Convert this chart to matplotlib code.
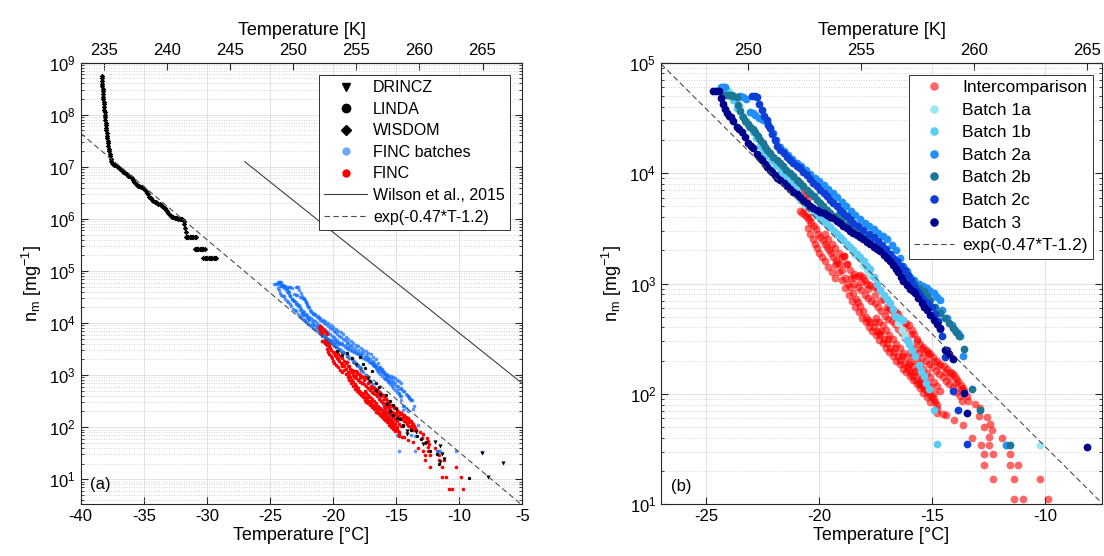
import matplotlib
matplotlib.use("Agg")
import matplotlib.pyplot as plt
import numpy as np
from matplotlib.lines import Line2D

plt.rcParams['font.family'] = ['Liberation Sans', 'DejaVu Sans']
plt.rcParams['mathtext.fontset'] = 'custom'
plt.rcParams['mathtext.rm'] = 'Liberation Sans'
plt.rcParams['mathtext.it'] = 'Liberation Sans:italic'
plt.rcParams['mathtext.bf'] = 'Liberation Sans:bold'
plt.rcParams['axes.unicode_minus'] = False

# ---------------- data: (temperature degC, log10 n_m [mg^-1]) ----------------
# panel (a): other instruments
wisdom = [(-38.33, 8.75), (-38.32, 8.70), (-38.30, 8.65), (-38.29, 8.60), (-38.28, 8.55),
          (-38.26, 8.50), (-38.25, 8.45), (-38.23, 8.40), (-38.22, 8.35), (-38.20, 8.30),
          (-38.18, 8.25), (-38.17, 8.20), (-38.15, 8.15), (-38.13, 8.10), (-38.11, 8.05),
          (-38.09, 8.00), (-38.07, 7.95), (-38.05, 7.90), (-38.03, 7.85), (-38.01, 7.80),
          (-37.99, 7.75), (-37.96, 7.70), (-37.94, 7.65), (-37.92, 7.60), (-37.89, 7.55),
          (-37.86, 7.50), (-37.83, 7.45), (-37.80, 7.40), (-37.77, 7.35), (-37.74, 7.30),
          (-37.70, 7.25), (-37.66, 7.20), (-37.62, 7.15), (-37.57, 7.11), (-37.52, 7.07),
          (-37.45, 7.05), (-37.35, 7.04), (-37.25, 7.03), (-37.15, 7.02), (-37.05, 7.00),
          (-36.95, 6.97), (-36.85, 6.95), (-36.75, 6.93), (-36.65, 6.91), (-36.55, 6.90),
          (-36.45, 6.88), (-36.35, 6.86), (-36.25, 6.83), (-36.15, 6.82), (-36.05, 6.80),
          (-35.95, 6.78), (-35.85, 6.74), (-35.75, 6.71), (-35.65, 6.68), (-35.55, 6.65),
          (-35.45, 6.64), (-35.35, 6.63), (-35.25, 6.62), (-35.15, 6.61), (-35.05, 6.60),
          (-34.95, 6.58), (-34.85, 6.54), (-34.75, 6.50), (-34.65, 6.47), (-34.55, 6.43),
          (-34.45, 6.40), (-34.35, 6.37), (-34.25, 6.34), (-34.15, 6.33), (-34.05, 6.32),
          (-33.95, 6.30), (-33.85, 6.29), (-33.75, 6.28), (-33.65, 6.27), (-33.55, 6.25),
          (-33.45, 6.23), (-33.35, 6.21), (-33.25, 6.18), (-33.15, 6.15), (-33.05, 6.11),
          (-32.95, 6.08), (-32.85, 6.06), (-32.75, 6.04), (-32.65, 6.03), (-32.55, 6.02),
          (-32.45, 6.01), (-32.35, 6.01), (-32.25, 6.00), (-32.15, 6.00), (-32.05, 5.99),
          (-31.95, 5.99), (-31.85, 5.96), (-31.78, 5.90), (-31.72, 5.82), (-31.68, 5.74),
          (-31.66, 5.65), (-31.56, 5.65), (-31.46, 5.65), (-31.36, 5.65), (-31.26, 5.65),
          (-31.16, 5.65), (-31.06, 5.65), (-30.96, 5.65), (-30.86, 5.65),
          (-30.97, 5.42), (-30.87, 5.42), (-30.77, 5.42), (-30.67, 5.42), (-30.57, 5.42),
          (-30.47, 5.42), (-30.37, 5.42), (-30.27, 5.42), (-30.17, 5.42),
          (-30.27, 5.24), (-30.17, 5.24), (-30.07, 5.24), (-29.97, 5.24), (-29.87, 5.24),
          (-29.77, 5.24), (-29.67, 5.24), (-29.57, 5.24), (-29.47, 5.24), (-29.37, 5.24),
          (-29.27, 5.24)]

linda = [(-19.71, 3.455), (-19.30, 3.38), (-18.87, 3.42), (-18.50, 3.33), (-17.87, 3.34),
         (-17.60, 3.21), (-17.48, 3.13), (-17.08, 2.89), (-16.93, 3.07), (-16.60, 2.85),
         (-16.37, 2.77), (-16.28, 2.63), (-15.81, 2.61), (-15.75, 2.44), (-15.50, 2.50),
         (-15.25, 2.42), (-15.23, 2.24), (-14.96, 2.18), (-14.70, 2.16), (-14.44, 2.05),
         (-14.42, 2.03), (-13.80, 1.95), (-13.38, 1.83), (-13.03, 1.77), (-12.61, 1.71),
         (-12.32, 1.54), (-11.78, 1.48), (-11.64, 1.29), (-9.21, 1.017)]

drincz = [(-18.20, 3.20), (-17.20, 2.95), (-16.60, 2.70), (-15.50, 2.30), (-15.05, 2.35),
          (-14.17, 1.92), (-14.14, 1.87), (-13.45, 1.90), (-12.85, 1.67), (-11.92, 1.71),
          (-11.50, 1.64), (-11.36, 1.48), (-11.22, 1.38), (-11.53, 1.34), (-8.16, 1.495),
          (-7.70, 1.05), (-6.50, 1.31)]

# FINC intercomparison (red)
interc_top = [(-21.15, 3.91), (-21.05, 3.94), (-20.95, 3.93), (-20.85, 3.90), (-20.75, 3.87),
              (-20.65, 3.84), (-20.55, 3.81), (-20.45, 3.78), (-21.05, 3.86), (-20.95, 3.82),
              (-20.85, 3.80), (-20.85, 3.66), (-20.75, 3.64), (-20.65, 3.62), (-20.55, 3.60),
              (-20.45, 3.575), (-20.35, 3.55), (-20.25, 3.52), (-20.15, 3.49), (-20.04, 3.45),
              (-19.95, 3.42), (-19.85, 3.39), (-19.76, 3.36), (-19.67, 3.33), (-19.58, 3.30),
              (-19.50, 3.28), (-19.38, 3.24), (-19.28, 3.21), (-19.20, 3.19), (-20.65, 3.68),
              (-20.50, 3.64), (-20.35, 3.60), (-19.75, 3.45), (-19.60, 3.40), (-19.45, 3.36),
              (-19.30, 3.32), (-19.15, 3.28), (-19.00, 3.24), (-18.90, 3.25), (-18.78, 3.18),
              (-20.50, 3.50), (-20.40, 3.45), (-20.30, 3.40), (-20.20, 3.36), (-20.10, 3.32),
              (-20.00, 3.28), (-19.90, 3.24), (-19.75, 3.20), (-19.60, 3.15), (-19.45, 3.10),
              (-19.30, 3.05)]
interc_low = [(-19.10, 3.18), (-18.98, 3.12), (-18.85, 3.05), (-18.74, 3.00), (-18.64, 2.97),
              (-18.51, 2.91), (-18.38, 2.86), (-18.28, 2.83), (-18.19, 2.80), (-18.05, 2.75),
              (-17.92, 2.70), (-17.83, 2.67), (-17.75, 2.65), (-17.60, 2.61), (-17.45, 2.57),
              (-17.38, 2.55), (-17.31, 2.53), (-17.15, 2.495), (-16.99, 2.46), (-16.87, 2.42),
              (-16.70, 2.38), (-16.52, 2.34), (-16.42, 2.31), (-16.27, 2.27), (-16.13, 2.24),
              (-16.05, 2.22), (-15.94, 2.19), (-15.84, 2.16), (-15.72, 2.13), (-15.59, 2.10),
              (-15.50, 2.08), (-15.40, 2.06), (-15.32, 2.04), (-15.24, 2.02), (-15.12, 1.99),
              (-15.03, 1.97), (-14.95, 1.95), (-14.88, 1.925), (-14.81, 1.90), (-14.81, 1.86),
              (-14.78, 1.83), (-14.51, 1.82),
              (-19.30, 3.17), (-19.15, 3.10), (-19.00, 3.03), (-18.85, 2.96), (-18.70, 2.90),
              (-18.55, 2.84), (-18.40, 2.79), (-18.25, 2.74), (-18.10, 2.69), (-17.95, 2.65),
              (-17.80, 2.61), (-17.65, 2.57), (-17.50, 2.53), (-17.35, 2.49), (-17.20, 2.46),
              (-17.05, 2.42), (-16.90, 2.38), (-16.75, 2.34), (-16.60, 2.30), (-16.45, 2.27),
              (-16.30, 2.23), (-16.15, 2.20), (-16.00, 2.16), (-15.85, 2.13), (-15.70, 2.09),
              (-15.55, 2.05), (-15.40, 2.01), (-15.25, 1.97), (-15.12, 1.93),
              (-17.55, 2.655), (-17.25, 2.57), (-16.95, 2.50), (-16.65, 2.42), (-16.35, 2.345),
              (-16.05, 2.275), (-15.75, 2.20), (-15.50, 2.135), (-15.25, 2.075), (-14.95, 2.01),
              (-17.50, 2.69), (-17.35, 2.655), (-17.20, 2.62), (-17.05, 2.575), (-16.90, 2.535),
              (-16.75, 2.495), (-16.60, 2.455), (-16.45, 2.415), (-16.30, 2.37), (-16.15, 2.33),
              (-16.00, 2.29), (-15.85, 2.25), (-15.70, 2.215), (-15.55, 2.18), (-15.40, 2.14),
              (-15.25, 2.10), (-15.10, 2.06),
              (-16.00, 2.38), (-15.85, 2.34), (-15.70, 2.30), (-15.55, 2.27), (-15.40, 2.23),
              (-15.25, 2.19), (-15.10, 2.15), (-14.95, 2.11), (-14.80, 2.07), (-14.65, 2.03)]
interc_high = [(-18.90, 3.25), (-18.77, 3.18), (-18.64, 3.12), (-18.47, 3.09), (-18.30, 3.07),
               (-18.18, 3.08), (-18.07, 3.06), (-17.98, 3.03), (-17.90, 3.00), (-17.75, 2.985),
               (-17.60, 2.97), (-17.45, 2.955), (-17.30, 2.94), (-17.15, 2.86), (-17.01, 2.79),
               (-16.88, 2.775), (-16.75, 2.76), (-16.63, 2.74), (-16.52, 2.72), (-16.41, 2.69),
               (-16.30, 2.66), (-16.18, 2.64), (-16.05, 2.62), (-15.92, 2.58), (-15.80, 2.54),
               (-15.67, 2.50), (-15.54, 2.45), (-15.40, 2.425), (-15.27, 2.40), (-15.18, 2.38),
               (-15.10, 2.36), (-14.96, 2.33), (-14.80, 2.30), (-14.65, 2.27), (-14.50, 2.25),
               (-14.35, 2.225), (-14.21, 2.20), (-14.12, 2.185), (-14.04, 2.17), (-13.95, 2.145),
               (-13.85, 2.12), (-13.73, 2.08), (-13.66, 2.055), (-13.60, 2.03), (-13.49, 1.98),
               (-13.42, 1.94),
               (-18.45, 3.06), (-18.15, 3.01), (-17.85, 2.95), (-17.55, 2.90), (-17.25, 2.85),
               (-16.95, 2.76), (-16.70, 2.71), (-16.45, 2.66), (-16.20, 2.60), (-15.95, 2.54),
               (-15.70, 2.48), (-15.45, 2.41), (-15.20, 2.36), (-14.95, 2.30), (-14.70, 2.25),
               (-14.45, 2.20), (-14.20, 2.15), (-13.95, 2.10), (-13.75, 2.04),
               (-18.60, 3.05), (-18.45, 3.00), (-18.30, 2.97), (-18.15, 2.94), (-18.00, 2.90),
               (-17.85, 2.87), (-17.70, 2.84), (-17.55, 2.82), (-17.40, 2.79), (-17.25, 2.75),
               (-17.10, 2.71), (-16.95, 2.68), (-16.80, 2.66), (-16.65, 2.63), (-16.50, 2.59),
               (-16.35, 2.55), (-16.20, 2.51), (-16.05, 2.47), (-15.90, 2.44), (-15.75, 2.41),
               (-15.60, 2.37), (-15.45, 2.33), (-15.30, 2.30), (-15.15, 2.27), (-15.00, 2.24),
               (-14.85, 2.21), (-14.70, 2.18), (-14.55, 2.15), (-14.40, 2.12), (-14.25, 2.09),
               (-14.10, 2.06), (-13.95, 2.02), (-13.80, 1.98), (-13.70, 1.94)]
interc_tail = [(-14.38, 1.81), (-14.04, 1.76), (-13.65, 1.72), (-13.26, 1.60), (-12.87, 1.54),
               (-12.48, 1.54), (-12.72, 1.457), (-12.33, 1.457), (-12.72, 1.36), (-12.33, 1.23),
               (-11.94, 1.60), (-11.58, 1.457), (-11.58, 1.36), (-11.21, 1.36), (-11.37, 1.23),
               (-10.23, 1.23), (-11.37, 1.046), (-11.01, 1.046), (-9.88, 1.046), (-13.10, 1.91),
               (-12.88, 1.87), (-12.59, 1.79), (-12.44, 1.73), (-12.37, 1.67), (-12.51, 1.61),
               (-12.95, 1.80), (-12.70, 1.70), (-10.80, 0.82), (-10.60, 0.82), (-9.70, 0.82)]
intercomparison = interc_top + interc_low + interc_high + interc_tail

batch_1a = [(-24.17, 4.78), (-24.00, 4.74), (-23.80, 4.71), (-23.65, 4.65), (-23.50, 4.60),
            (-22.50, 4.19), (-22.32, 4.15), (-22.10, 4.10), (-21.88, 4.06), (-21.60, 3.99),
            (-21.30, 3.94), (-21.05, 3.86), (-20.85, 3.76), (-20.62, 3.71), (-20.40, 3.67),
            (-20.18, 3.62), (-19.96, 3.58), (-19.74, 3.545), (-19.52, 3.51), (-19.20, 3.44),
            (-18.40, 3.26), (-18.05, 3.17), (-17.90, 3.12), (-17.75, 3.08), (-16.65, 2.71),
            (-16.50, 2.64), (-16.35, 2.58), (-16.20, 2.52), (-15.98, 2.46), (-10.23, 1.54)]

batch_1b = [(-24.28, 4.77), (-24.12, 4.75), (-23.95, 4.70), (-23.80, 4.66), (-23.62, 4.59),
            (-23.40, 4.52), (-23.25, 4.47), (-23.10, 4.42), (-22.95, 4.37), (-22.80, 4.32),
            (-22.60, 4.25), (-22.45, 4.20), (-22.30, 4.16), (-22.10, 4.12), (-21.90, 4.07),
            (-21.70, 4.02), (-21.50, 3.97), (-21.30, 3.92), (-21.15, 3.88), (-21.00, 3.84),
            (-20.85, 3.79), (-20.70, 3.75), (-20.55, 3.72), (-20.40, 3.69), (-20.25, 3.66),
            (-20.10, 3.62), (-19.96, 3.59), (-19.81, 3.565), (-19.67, 3.54), (-19.52, 3.51),
            (-19.37, 3.48), (-19.23, 3.45), (-19.08, 3.42), (-18.93, 3.39), (-18.78, 3.36),
            (-18.64, 3.33), (-18.49, 3.30), (-18.34, 3.27), (-18.19, 3.24), (-18.04, 3.20),
            (-17.90, 3.16), (-17.75, 3.13), (-17.60, 3.06), (-17.45, 3.00), (-17.31, 2.94),
            (-17.16, 2.90), (-17.01, 2.86), (-16.87, 2.82), (-16.76, 2.77), (-16.65, 2.71),
            (-16.48, 2.69), (-16.30, 2.67), (-16.13, 2.49), (-16.02, 2.45), (-15.90, 2.40),
            (-15.76, 2.34), (-15.61, 2.26), (-15.50, 2.21), (-15.39, 2.16), (-15.28, 2.10),
            (-15.17, 2.04), (-14.95, 1.85), (-14.80, 1.55), (-11.71, 1.54)]

batch_2a = [(-24.35, 4.78), (-24.25, 4.78), (-24.15, 4.78), (-23.50, 4.70), (-23.38, 4.69),
            (-23.25, 4.67), (-23.06, 4.55), (-22.95, 4.54), (-22.85, 4.53), (-22.65, 4.50),
            (-22.50, 4.48), (-22.30, 4.46), (-22.18, 4.41), (-22.05, 4.36), (-21.90, 4.30),
            (-21.75, 4.24), (-21.58, 4.20), (-21.40, 4.165), (-21.20, 4.13), (-21.00, 4.095),
            (-20.80, 4.06), (-20.60, 4.03), (-20.40, 3.995), (-20.20, 3.96), (-20.00, 3.925),
            (-19.80, 3.89), (-19.60, 3.855), (-19.40, 3.82), (-19.20, 3.78), (-19.00, 3.74),
            (-18.80, 3.70), (-18.60, 3.66), (-18.40, 3.62), (-18.20, 3.58), (-18.00, 3.55),
            (-17.80, 3.52), (-17.60, 3.49), (-17.40, 3.46), (-17.20, 3.43), (-17.00, 3.40),
            (-16.80, 3.35), (-16.60, 3.30), (-16.45, 3.23), (-16.30, 3.16), (-16.14, 3.11),
            (-15.98, 3.06), (-15.80, 3.03), (-15.61, 3.00), (-15.42, 2.98), (-15.24, 2.96),
            (-15.10, 2.935), (-14.95, 2.91), (-14.80, 2.88), (-14.65, 2.85), (-14.58, 2.76),
            (-14.36, 2.69), (-14.14, 2.62), (-13.99, 2.58), (-13.88, 2.55), (-13.77, 2.52),
            (-13.65, 2.34), (-11.75, 1.54)]

batch_2b = [(-24.24, 4.71), (-24.12, 4.71), (-24.00, 4.71), (-23.90, 4.705), (-23.80, 4.70),
            (-23.65, 4.69), (-23.58, 4.62), (-23.50, 4.56), (-23.38, 4.51), (-23.28, 4.47),
            (-23.17, 4.445), (-23.06, 4.42), (-22.95, 4.40), (-22.84, 4.375), (-22.73, 4.34),
            (-22.62, 4.30), (-22.51, 4.27), (-22.40, 4.24), (-22.29, 4.21), (-22.18, 4.18),
            (-22.03, 4.15), (-21.88, 4.12), (-21.73, 4.09), (-21.59, 4.06), (-21.45, 4.03),
            (-21.30, 4.00), (-21.15, 3.97), (-21.00, 3.94), (-20.85, 3.91), (-20.70, 3.88),
            (-20.55, 3.85), (-20.40, 3.82), (-20.25, 3.79), (-20.10, 3.76), (-19.96, 3.73),
            (-19.82, 3.70), (-19.67, 3.67), (-19.52, 3.64), (-19.26, 3.61), (-19.00, 3.58),
            (-18.75, 3.54), (-18.50, 3.50), (-18.25, 3.465), (-18.00, 3.43), (-17.75, 3.39),
            (-17.50, 3.35), (-17.25, 3.30), (-17.00, 3.25), (-16.85, 3.215), (-16.70, 3.18),
            (-16.56, 3.15), (-16.42, 3.12), (-16.26, 3.085), (-16.10, 3.05), (-15.92, 3.02),
            (-15.75, 2.99), (-15.57, 2.96), (-15.39, 2.93), (-15.25, 2.89), (-15.10, 2.85),
            (-14.88, 2.79), (-14.65, 2.73), (-14.43, 2.69), (-14.25, 2.645), (-14.07, 2.60),
            (-13.95, 2.56), (-13.84, 2.52), (-13.62, 2.41), (-13.25, 2.04), (-12.90, 1.85),
            (-11.55, 1.54)]

batch_2c = [(-22.96, 4.70), (-22.85, 4.70), (-22.77, 4.69), (-22.66, 4.63), (-22.54, 4.57),
            (-22.43, 4.52), (-22.32, 4.48), (-22.25, 4.44), (-22.18, 4.41), (-22.07, 4.35),
            (-21.96, 4.30), (-21.85, 4.25), (-21.73, 4.21), (-21.58, 4.18), (-21.44, 4.15),
            (-21.30, 4.12), (-21.15, 4.09), (-21.00, 4.065), (-20.85, 4.043), (-20.70, 4.01),
            (-20.55, 3.98), (-20.40, 3.945), (-20.26, 3.91), (-20.11, 3.88), (-19.96, 3.85),
            (-19.81, 3.82), (-19.67, 3.79), (-19.52, 3.76), (-19.38, 3.73), (-19.23, 3.70),
            (-19.08, 3.67), (-18.93, 3.64), (-18.78, 3.61), (-18.64, 3.58), (-18.49, 3.55),
            (-18.27, 3.52), (-18.05, 3.485), (-17.82, 3.45), (-17.60, 3.42), (-17.42, 3.385),
            (-17.23, 3.35), (-17.05, 3.31), (-16.87, 3.27), (-16.72, 3.235), (-16.57, 3.20),
            (-16.38, 3.16), (-16.20, 3.12), (-16.07, 3.075), (-15.95, 3.03), (-15.82, 2.98),
            (-15.70, 2.93), (-15.55, 2.895), (-15.40, 2.86), (-15.21, 2.825), (-15.02, 2.79),
            (-14.88, 2.725), (-14.75, 2.66), (-14.66, 2.59), (-14.58, 2.52), (-14.43, 2.33),
            (-14.36, 2.40), (-14.07, 2.03), (-13.85, 1.85), (-13.47, 1.55)]

batch_3 = [(-24.69, 4.744), (-24.56, 4.744), (-24.42, 4.744), (-24.33, 4.68), (-24.27, 4.626),
           (-24.18, 4.58), (-24.09, 4.542), (-23.98, 4.52), (-23.92, 4.511), (-23.80, 4.47),
           (-23.65, 4.42), (-23.55, 4.40), (-23.43, 4.375), (-23.30, 4.33), (-23.14, 4.27),
           (-23.03, 4.25), (-22.92, 4.225), (-22.75, 4.17), (-22.62, 4.14), (-22.54, 4.12),
           (-22.42, 4.08), (-22.32, 4.053), (-22.20, 4.03), (-22.10, 4.013), (-21.95, 3.98),
           (-21.85, 3.96), (-21.73, 3.94), (-21.58, 3.91), (-21.44, 3.88), (-21.30, 3.855),
           (-21.15, 3.83), (-21.00, 3.81), (-20.85, 3.786), (-20.70, 3.76), (-20.55, 3.73),
           (-20.40, 3.70), (-20.26, 3.68), (-20.12, 3.665), (-19.96, 3.65), (-19.80, 3.635),
           (-19.67, 3.62), (-19.52, 3.605), (-19.38, 3.59), (-19.22, 3.57), (-19.08, 3.545),
           (-18.93, 3.52), (-18.78, 3.50), (-18.63, 3.48), (-18.49, 3.46), (-18.34, 3.44),
           (-18.19, 3.42), (-18.05, 3.40), (-17.90, 3.38), (-17.75, 3.36), (-17.60, 3.335),
           (-17.45, 3.31), (-17.31, 3.29), (-17.16, 3.26), (-17.01, 3.23), (-16.86, 3.20),
           (-16.72, 3.168), (-16.60, 3.13), (-16.50, 3.10), (-16.40, 3.06), (-16.28, 3.02),
           (-16.13, 2.99), (-15.98, 2.95), (-15.86, 2.93), (-15.76, 2.91), (-15.62, 2.865),
           (-15.47, 2.82), (-15.35, 2.79), (-15.24, 2.76), (-15.10, 2.715), (-14.95, 2.67),
           (-14.80, 2.63), (-14.65, 2.594), (-14.43, 2.40), (-14.25, 2.36), (-14.07, 2.32),
           (-13.62, 2.005), (-13.47, 1.83), (-8.17, 1.517)]

batch_names = ['Batch 1a', 'Batch 1b', 'Batch 2a', 'Batch 2b', 'Batch 2c', 'Batch 3']
batches = [batch_1a, batch_1b, batch_2a, batch_2b, batch_2c, batch_3]
batch_colors = ['#9de6ef', '#5ecbf5', '#2290fb', '#1a7896', '#0d3fd6', '#00008c']

# parameterisations
fit_a, fit_b = -0.47, -1.2          # exp(-0.47*T-1.2)
wilson_a, wilson_b = 4.31, -0.4459  # Wilson et al., 2015 (mg^-1)
wilson_range = [-27, -5]


def split(points):
    t, lg = zip(*points)
    return np.array(t), 10 ** np.array(lg)


def c2k(t):
    return t + 273.15


def k2c(t):
    return t - 273.15


def style_axes(ax, kticks):
    ax.set_yscale('log')
    ax.tick_params(which='both', direction='in', top=False, right=True, labelsize=12,
                   color='0.15')
    ax.tick_params(which='major', length=5)
    ax.tick_params(which='minor', length=2.5)
    ax.grid(True, which='major', color='0.87', lw=0.6)
    ax.grid(True, which='minor', axis='y', color='0.78', ls=(0, (1, 2)), lw=0.6)
    ax.set_axisbelow(True)
    for s in ax.spines.values():
        s.set_color('0.15')
        s.set_linewidth(0.8)
    ax.set_xlabel('Temperature [°C]', fontsize=13, labelpad=2)
    ax.set_ylabel(r'n$_\mathrm{m}$ [mg$^{-1}$]', fontsize=13, labelpad=4)
    top = ax.secondary_xaxis('top', functions=(c2k, k2c))
    top.set_xticks(kticks)
    top.tick_params(direction='in', length=5, labelsize=12, color='0.15')
    top.spines['top'].set_color('0.15')
    top.spines['top'].set_linewidth(0.8)
    top.set_xlabel('Temperature [K]', fontsize=13, labelpad=6)


fig = plt.figure(figsize=(11.04, 5.56), dpi=100)
ax1 = fig.add_axes([0.0731, 0.0930, 0.4000, 0.7942])
ax2 = fig.add_axes([0.5987, 0.0930, 0.3995, 0.7942])

finc_blue = (0.05, 0.42, 1.0)

# ---------------- panel (a) ----------------
bt, bn = split([p for b in batches for p in b])
ax1.plot(bt, bn, 'o', color=finc_blue, alpha=0.7, ms=2.6, mew=0)
it, inn = split(intercomparison)
ax1.plot(it, inn, 'o', color='red', ms=2.6, mew=0)
t, n = split(wisdom)
ax1.plot(t, n, 'D', color='k', ms=2.8, mew=0)
t, n = split(linda)
ax1.plot(t, n, 'o', color='k', ms=2.4, mew=0)
t, n = split(drincz)
ax1.plot(t, n, 'v', color='k', ms=3.0, mew=0)
wT = np.array(wilson_range, dtype=float)
ax1.plot(wT, np.exp(wilson_a + wilson_b * wT), '-', color='0.25', lw=0.8)
fT1 = np.array([-40.0, -5.0])
ax1.plot(fT1, np.exp(fit_a * fT1 + fit_b), '--', color='0.3', lw=0.8, dashes=(5, 3))
ax1.set_xlim(-40, -5)
ax1.set_ylim(3.3, 1e9)
ax1.set_xticks(np.arange(-40, -4, 5))
ax1.set_yticks([10.0 ** k for k in range(1, 10)])
style_axes(ax1, np.arange(235, 266, 5))
ax1.text(0.044, 0.044, '(a)', transform=ax1.transAxes, fontsize=12, ha='center', va='center')

h1 = [Line2D([], [], ls='none', marker='v', color='k', ms=6, label='DRINCZ'),
      Line2D([], [], ls='none', marker='o', color='k', ms=6, label='LINDA'),
      Line2D([], [], ls='none', marker='D', color='k', ms=5, label='WISDOM'),
      Line2D([], [], ls='none', marker='o', color=finc_blue, alpha=0.6, ms=6, mew=0,
             label='FINC batches'),
      Line2D([], [], ls='none', marker='o', color='red', ms=6, mew=0, label='FINC'),
      Line2D([], [], ls='-', color='0.25', lw=0.8, label='Wilson et al., 2015'),
      Line2D([], [], ls='--', color='0.3', lw=0.8, dashes=(5, 3), label='exp(-0.47*T-1.2)')]
leg1 = ax1.legend(handles=h1, loc='upper right', bbox_to_anchor=(0.973, 0.973),
                  borderaxespad=0, fontsize=11.5, fancybox=False, framealpha=1,
                  edgecolor='0.2', handlelength=2.7, handletextpad=0.35, labelspacing=0.41,
                  borderpad=0.35)
leg1.get_frame().set_linewidth(0.7)

# ---------------- panel (b) ----------------
ax2.plot(it, inn, 'o', color='red', alpha=0.6, ms=5.6, mew=0, label='Intercomparison')
for name, pts, c in zip(batch_names, batches, batch_colors):
    t, n = split(pts)
    ax2.plot(t, n, 'o', color=c, ms=5.6, mew=0, label=name)
fT2 = np.array([-27.0, -7.5])
ax2.plot(fT2, np.exp(fit_a * fT2 + fit_b), '--', color='0.3', lw=0.8, dashes=(5, 3),
         label='exp(-0.47*T-1.2)')
ax2.set_xlim(-27, -7.5)
ax2.set_ylim(10, 1e5)
ax2.set_xticks([-25, -20, -15, -10])
ax2.set_yticks([10.0 ** k for k in range(1, 6)])
style_axes(ax2, [250, 255, 260, 265])
ax2.text(0.047, 0.04, '(b)', transform=ax2.transAxes, fontsize=12, ha='center', va='center')

leg2 = ax2.legend(loc='upper right', bbox_to_anchor=(0.979, 0.973), borderaxespad=0,
                  fontsize=12.5, fancybox=False, framealpha=1, edgecolor='0.2',
                  handlelength=2.3, handletextpad=0.45, labelspacing=0.43, borderpad=0.3,
                  markerscale=1.1)
leg2.get_frame().set_linewidth(0.7)

fig.savefig('out.png', dpi=100)
